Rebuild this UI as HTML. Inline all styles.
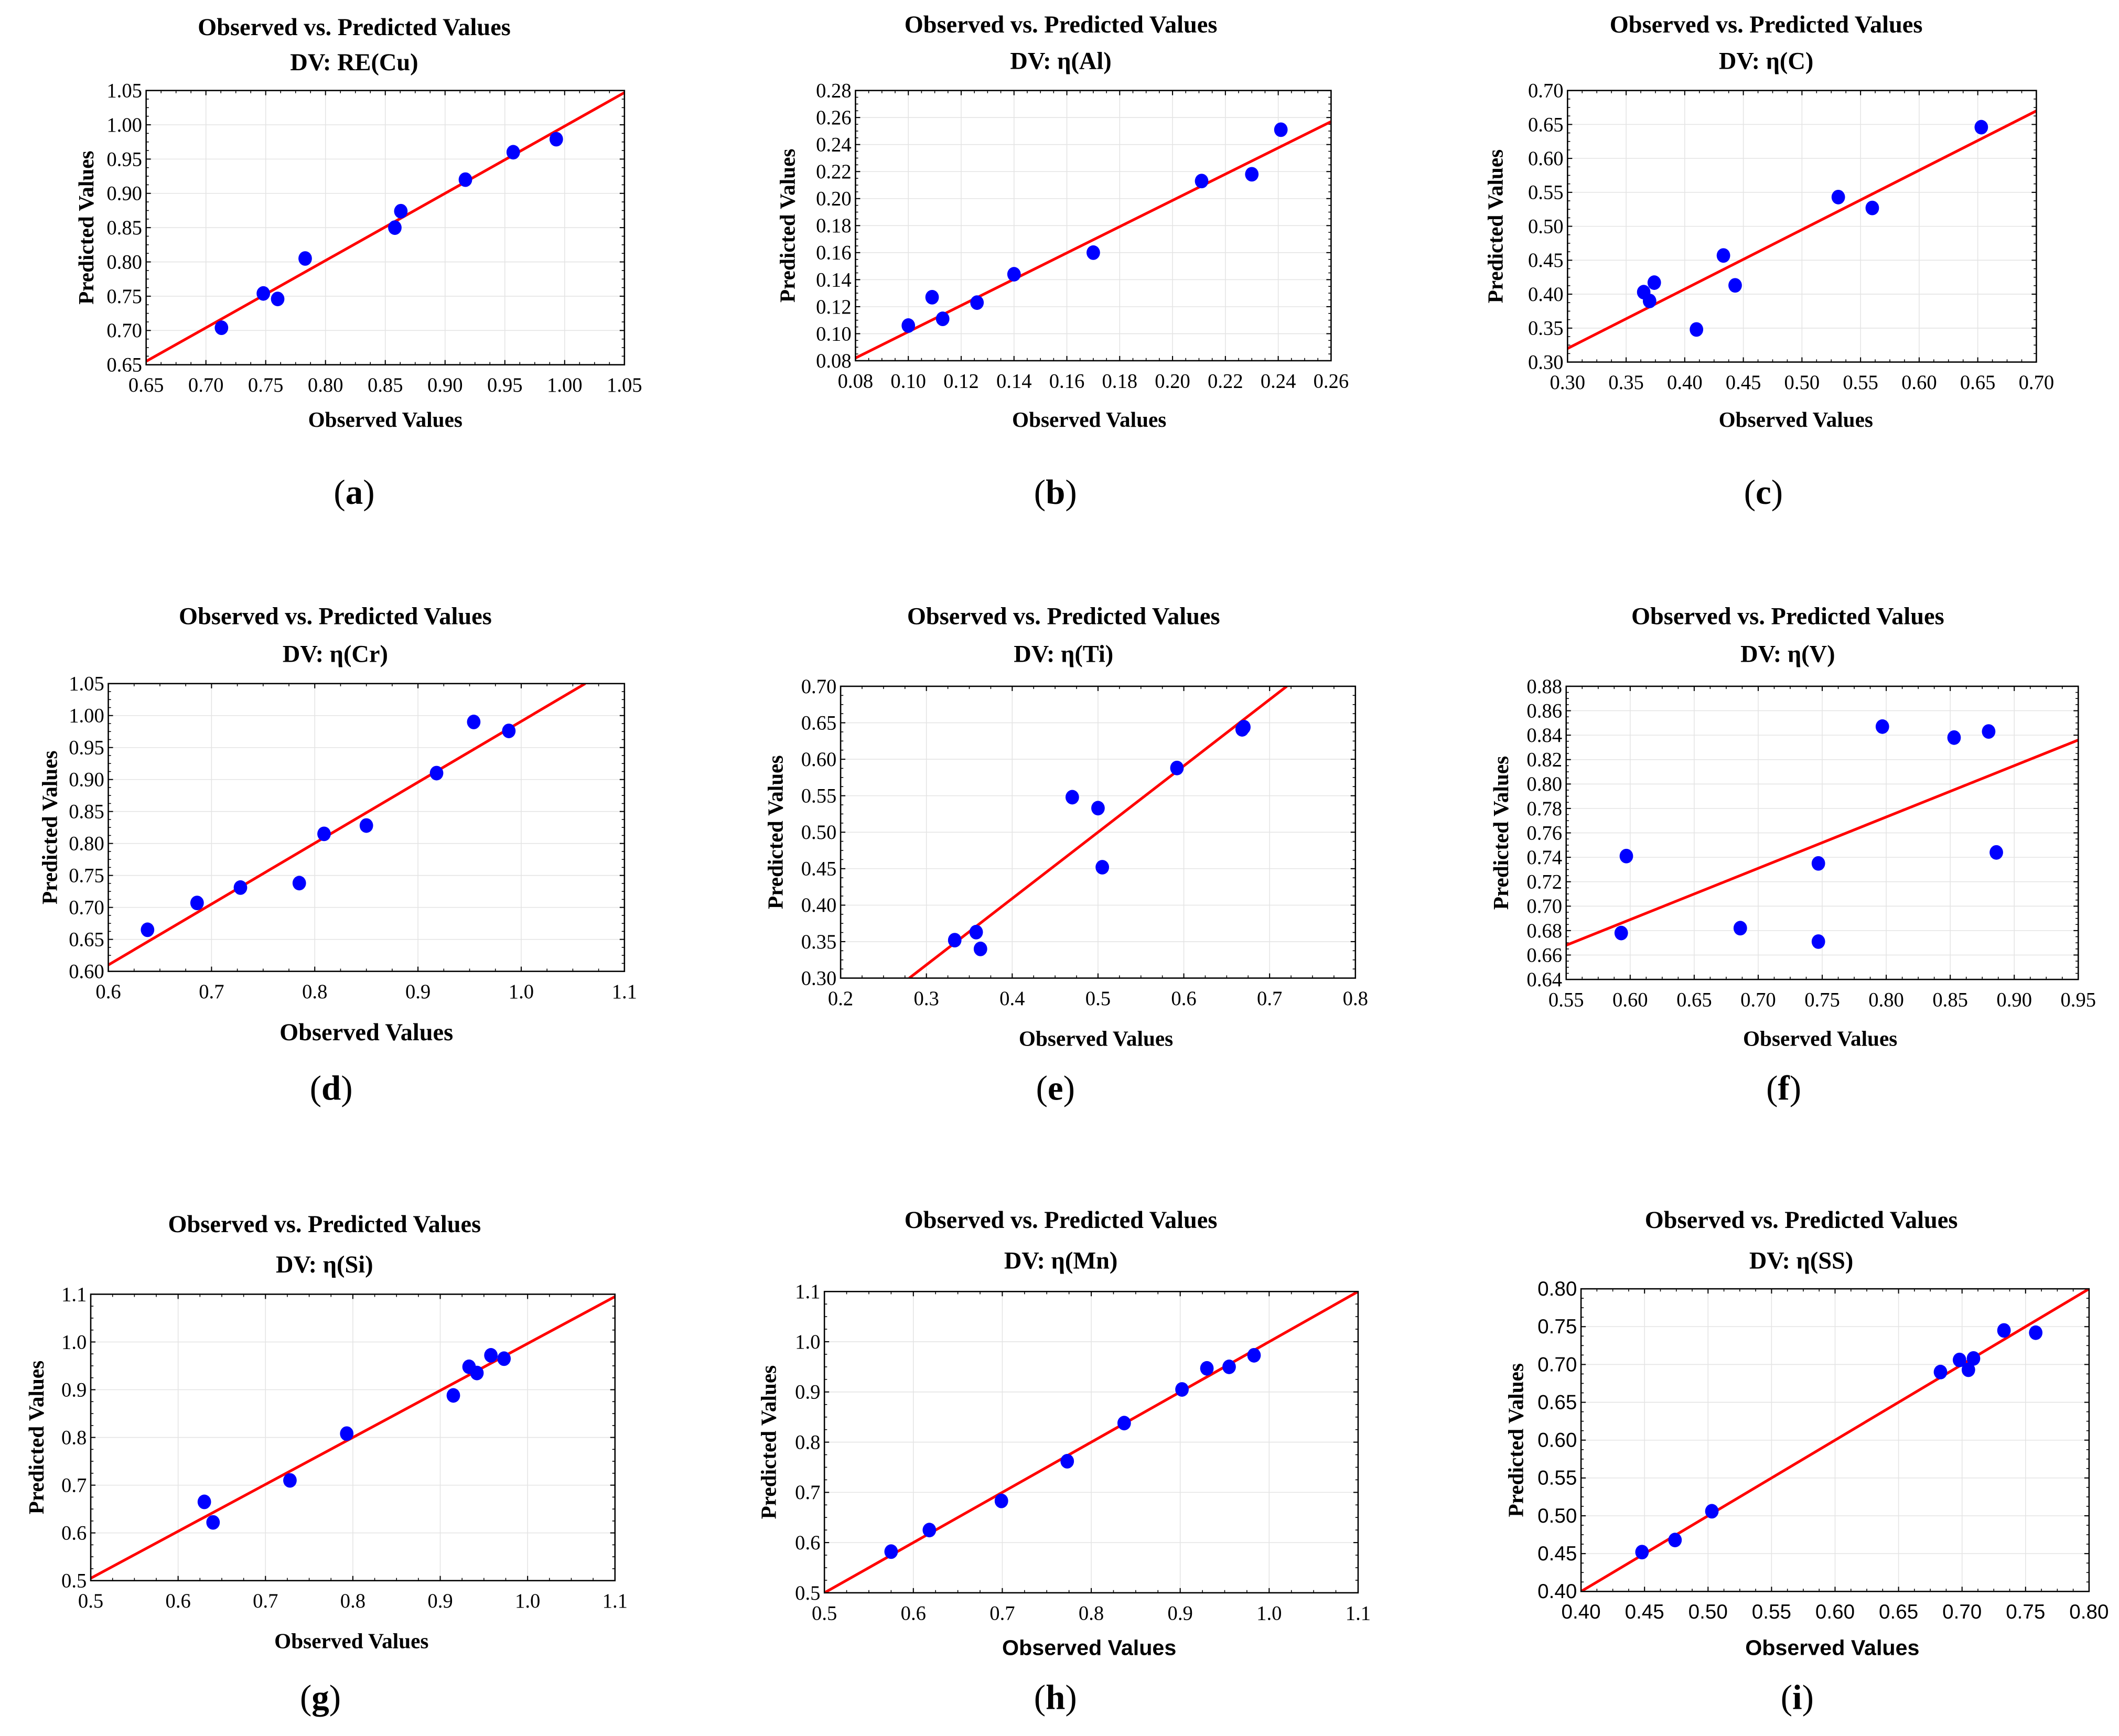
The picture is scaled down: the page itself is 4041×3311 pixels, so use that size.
<!DOCTYPE html>
<html><head><meta charset="utf-8"><style>
html,body{margin:0;padding:0;background:#fff;}
svg{display:block;}
.t{font-family:"Liberation Serif",serif;font-weight:bold;fill:#000;}
.tk{font-family:"Liberation Serif",serif;fill:#000;}
.sans{font-family:"Liberation Sans",sans-serif;}
</style></head><body>
<svg id="fig" xmlns="http://www.w3.org/2000/svg" width="4041" height="3311" viewBox="0 0 1568 1285"></svg>
<script>
// ---- data per panel ----
const aObs=[0.713,0.748,0.760,0.783,0.858,0.863,0.917,0.957,0.993];
const aPred=[0.704,0.754,0.746,0.805,0.850,0.874,0.920,0.960,0.979];
const aFit=[0.65,0.655,1.05,1.047];
const bObs=[0.100,0.109,0.113,0.126,0.140,0.170,0.211,0.230,0.241];
const bPred=[0.106,0.127,0.111,0.123,0.144,0.160,0.213,0.218,0.251];
const bFit=[0.08,0.082,0.26,0.257];
const cObs=[0.365,0.370,0.374,0.410,0.433,0.443,0.531,0.560,0.653];
const cPred=[0.403,0.390,0.417,0.348,0.457,0.413,0.543,0.527,0.646];
const cFit=[0.30,0.320,0.70,0.670];
const dObs=[0.638,0.686,0.728,0.785,0.809,0.850,0.918,0.954,0.988];
const dPred=[0.665,0.707,0.731,0.738,0.815,0.828,0.910,0.990,0.976];
const dFit=[0.60,0.610,1.062,1.05];
const eObs=[0.333,0.358,0.363,0.470,0.500,0.505,0.592,0.668,0.670];
const ePred=[0.352,0.363,0.340,0.548,0.533,0.452,0.588,0.641,0.644];
const eFit=[0.28,0.30,0.72,0.70];
const fObs=[0.593,0.597,0.686,0.747,0.747,0.797,0.853,0.880,0.886];
const fPred=[0.678,0.741,0.682,0.735,0.671,0.847,0.838,0.843,0.744];
const fFit=[0.55,0.668,0.95,0.836];
const gObs=[0.630,0.640,0.728,0.793,0.915,0.933,0.942,0.958,0.973];
const gPred=[0.665,0.622,0.710,0.808,0.888,0.948,0.935,0.972,0.965];
const gFit=[0.50,0.505,1.10,1.095];
const hObs=[0.575,0.618,0.699,0.773,0.837,0.902,0.930,0.955,0.983];
const hPred=[0.582,0.625,0.683,0.762,0.838,0.905,0.947,0.950,0.973];
const hFit=[0.50,0.50,1.10,1.10];
const iObs=[0.448,0.474,0.503,0.683,0.698,0.705,0.709,0.733,0.758];
const iPred=[0.452,0.468,0.506,0.690,0.706,0.693,0.708,0.745,0.742];
const iFit=[0.40,0.40,0.80,0.80];
const titles2=["DV: RE(Cu)","DV: η(Al)","DV: η(C)","DV: η(Cr)","DV: η(Ti)","DV: η(V)","DV: η(Si)","DV: η(Mn)","DV: η(SS)"];
const letters=["a","b","c","d","e","f","g","h","i"];

const NS="http://www.w3.org/2000/svg";
const svg=document.getElementById('fig');
function mk(tag,attrs,parent){const e=document.createElementNS(NS,tag);for(const k in attrs)e.setAttribute(k,attrs[k]);(parent||svg).appendChild(e);return e;}

const panels=[
 {obs:aObs,pred:aPred,fit:aFit,box:[108,67,462,270],xr:[0.65,1.05,0.05,2],yr:[0.65,1.05,0.05,2],t:[262,26,52],xl:[285,316],lt:[262,373],yl:63},
 {obs:bObs,pred:bPred,fit:bFit,box:[633,67,985,267],xr:[0.08,0.26,0.02,2],yr:[0.08,0.28,0.02,2],t:[785,24,51],xl:[806,316],lt:[781,373],yl:582},
 {obs:cObs,pred:cPred,fit:cFit,box:[1160,67,1507,268],xr:[0.30,0.70,0.05,2],yr:[0.30,0.70,0.05,2],t:[1307,24,51],xl:[1329,316],lt:[1305,373],yl:1106},
 {obs:dObs,pred:dPred,fit:dFit,box:[80,506,462,719],xr:[0.6,1.1,0.1,1],yr:[0.60,1.05,0.05,2],t:[248,462,490],xl:[271,770],lt:[245,814],yl:36,big:true},
 {obs:eObs,pred:ePred,fit:eFit,box:[622,508,1003,724],xr:[0.2,0.8,0.1,1],yr:[0.30,0.70,0.05,2],t:[787,462,490],xl:[811,774],lt:[781,814],yl:573},
 {obs:fObs,pred:fPred,fit:fFit,box:[1159,508,1538,725],xr:[0.55,0.95,0.05,2],yr:[0.64,0.88,0.02,2],t:[1323,462,490],xl:[1347,774],lt:[1320,814],yl:1110},
 {obs:gObs,pred:gPred,fit:gFit,box:[67,958,455,1170],xr:[0.5,1.1,0.1,1],yr:[0.5,1.1,0.1,1],t:[240,912,942],xl:[260,1220],lt:[237,1265],yl:26},
 {obs:hObs,pred:hPred,fit:hFit,box:[610,956,1005,1179],xr:[0.5,1.1,0.1,1],yr:[0.5,1.1,0.1,1],t:[785,909,939],xl:[806,1225],lt:[781,1265],yl:568,sansX:true},
 {obs:iObs,pred:iPred,fit:iFit,box:[1170,954,1546,1178],xr:[0.40,0.80,0.05,2],yr:[0.40,0.80,0.05,2],t:[1333,909,939],xl:[1356,1225],lt:[1330,1265],yl:1121,sansX:true,sansT:true}
];

panels.forEach((p,idx)=>{
  const L=letters[idx];
  const g=mk('g',{});
  
  
  const [x0,y0,x1,y1]=p.box;
  const sx=v=>x0+(v-p.xr[0])/(p.xr[1]-p.xr[0])*(x1-x0);
  const sy=v=>y1-(v-p.yr[0])/(p.yr[1]-p.yr[0])*(y1-y0);
  // clip
  const cp=mk('clipPath',{id:'clip'+L},g);
  mk('rect',{x:x0,y:y0,width:x1-x0,height:y1-y0},cp);
  // ticks
  const xt=[],yt=[];
  for(let v=p.xr[0];v<=p.xr[1]+1e-9;v+=p.xr[2])xt.push(+v.toFixed(4));
  for(let v=p.yr[0];v<=p.yr[1]+1e-9;v+=p.yr[2])yt.push(+v.toFixed(4));
  const tickCls='tk'+(p.sansT?' sans':'');
  xt.forEach(v=>{
    const X=sx(v);
    const gl=mk('line',{x1:X,x2:X,y1:y0,y2:y1,stroke:'#e4e4e4','stroke-width':0.6},g);
    
    
    mk('line',{x1:X,x2:X,y1:y1,y2:y1-3.5,stroke:'#000','stroke-width':0.8},g);
    mk('line',{x1:X,x2:X,y1:y0,y2:y0+3.5,stroke:'#000','stroke-width':0.8},g);
    const t=mk('text',{x:X,y:y1+20,'text-anchor':'middle','font-size':15,class:tickCls},g);
    
    
    t.textContent=v.toFixed(p.xr[3]);
  });
  yt.forEach(v=>{
    const Y=sy(v);
    const gl=mk('line',{x1:x0,x2:x1,y1:Y,y2:Y,stroke:'#e4e4e4','stroke-width':0.6},g);
    
    
    mk('line',{x1:x0,x2:x0+3.5,y1:Y,y2:Y,stroke:'#000','stroke-width':0.8},g);
    mk('line',{x1:x1,x2:x1-3.5,y1:Y,y2:Y,stroke:'#000','stroke-width':0.8},g);
    const t=mk('text',{x:x0-3,y:Y+5,'text-anchor':'end','font-size':15,class:tickCls},g);
    
    
    t.textContent=v.toFixed(p.yr[3]);
  });
  // minor ticks
  for(let i=0;i<xt.length-1;i++){for(let k=1;k<4;k++){const X=sx(xt[i]+k*p.xr[2]/4);
    mk('line',{x1:X,x2:X,y1:y1,y2:y1-2,stroke:'#000','stroke-width':0.6},g);
    mk('line',{x1:X,x2:X,y1:y0,y2:y0+2,stroke:'#000','stroke-width':0.6},g);}}
  for(let i=0;i<yt.length-1;i++){for(let k=1;k<4;k++){const Y=sy(yt[i]+k*p.yr[2]/4);
    mk('line',{x1:x0,x2:x0+2,y1:Y,y2:Y,stroke:'#000','stroke-width':0.6},g);
    mk('line',{x1:x1,x2:x1-2,y1:Y,y2:Y,stroke:'#000','stroke-width':0.6},g);}}
  // fit line
  const fl=mk('line',{x1:sx(p.fit[0]),y1:sy(p.fit[1]),x2:sx(p.fit[2]),y2:sy(p.fit[3]),stroke:'#ff0000','stroke-width':2,'clip-path':'url(#clip'+L+')'},g);
  
  
  // points
  p.obs.forEach((o,i)=>{
    const c=mk('ellipse',{cx:sx(o),cy:sy(p.pred[i]),rx:5,ry:5.4,fill:'#0000ff'},g);
    
    
  });
  // frame
  const fr=mk('rect',{x:x0,y:y0,width:x1-x0,height:y1-y0,fill:'none',stroke:'#000','stroke-width':1},g);
  
  
  // titles
  const t1=mk('text',{x:p.t[0],y:p.t[1],'text-anchor':'middle','font-size':18,class:'t'},g);
  
  
  t1.textContent='Observed vs. Predicted Values';
  const t2=mk('text',{x:p.t[0],y:p.t[2],'text-anchor':'middle','font-size':18,class:'t'},g);
  
  
  t2.textContent=titles2[idx];
  const xlab=mk('text',{x:p.xl[0],y:p.xl[1],'text-anchor':'middle','font-size':p.big?18:16,class:'t'+(p.sansX?' sans':'')},g);
  
  
  xlab.textContent='Observed Values';
  const cy=(y0+y1)/2;
  const ylab=mk('text',{x:p.yl,y:cy,'text-anchor':'middle','font-size':16,class:'t',transform:'rotate(-90 '+p.yl+' '+cy+') translate(0 6)'},g);
  
  
  ylab.textContent='Predicted Values';
  const lt=mk('text',{x:p.lt[0],y:p.lt[1],'text-anchor':'middle','font-size':26,class:'tk'},g);
  
  
  lt.innerHTML='(<tspan font-weight="bold">'+L+'</tspan>)';
});
</script>
</body></html>
